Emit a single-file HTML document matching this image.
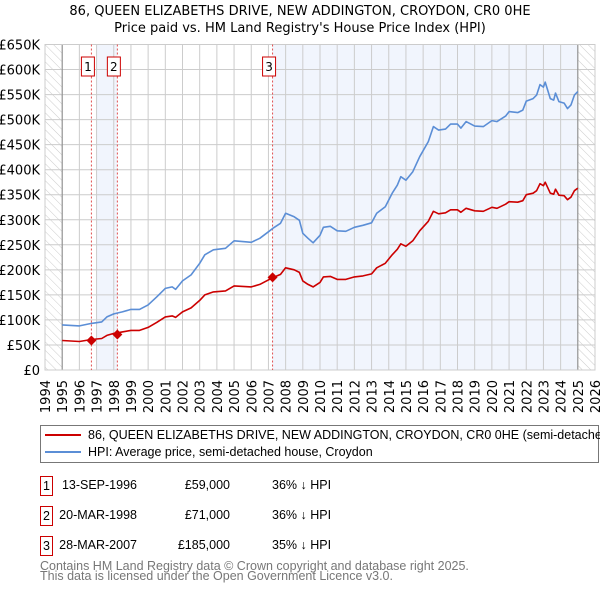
<!DOCTYPE html>
<html><head><meta charset="utf-8"><style>
body{margin:0;background:#fff;font-family:"Liberation Sans","DejaVu Sans",sans-serif;}
#wrap{position:relative;width:600px;height:590px;overflow:hidden;}
svg text{font-family:"DejaVu Sans","Liberation Sans",sans-serif;}
.row{position:absolute;font-size:12px;font-family:"Liberation Sans",sans-serif;color:#000;white-space:nowrap;}
</style></head><body><div id="wrap">
<svg id="chart" width="600" height="590">
<defs><pattern id="hatch" width="6" height="6" patternUnits="userSpaceOnUse" patternTransform="rotate(-45)"><line x1="0" y1="0" x2="0" y2="6" stroke="#ccc" stroke-width="1"/></pattern></defs>
<text x="300" y="15" text-anchor="middle" font-size="13">86, QUEEN ELIZABETHS DRIVE, NEW ADDINGTON, CROYDON, CR0 0HE</text>
<text x="300" y="32" text-anchor="middle" font-size="13">Price paid vs. HM Land Registry's House Price Index (HPI)</text>
<g id="plot"></g>
</svg>
<div style="position:absolute;left:40px;top:425px;width:557px;height:36px;border:1px solid #777;">
 <div style="position:absolute;left:4px;top:8px;width:36px;height:2px;background:#cc0000"></div>
 <div class="row" style="left:47px;top:2px;font-size:12.5px">86, QUEEN ELIZABETHS DRIVE, NEW ADDINGTON, CROYDON, CR0 0HE (semi-detached house)</div>
 <div style="position:absolute;left:4px;top:25px;width:36px;height:2px;background:#5b8ed6"></div>
 <div class="row" style="left:47px;top:19px;font-size:12.5px">HPI: Average price, semi-detached house, Croydon</div>
</div>
<div id="table"></div>
<div class="row" style="left:40px;top:561px;color:#777;line-height:10px;font-size:12.5px">Contains HM Land Registry data © Crown copyright and database right 2025.<br>This data is licensed under the Open Government Licence v3.0.</div>
</div>
<script>
const hpiYears=[1995.0,1996.0,1996.7,1997.3,1997.6,1998.0,1998.5,1999.0,1999.5,2000.0,2000.5,2001.0,2001.4,2001.6,2002.0,2002.5,2003.0,2003.3,2003.8,2004.5,2005.0,2006.0,2006.5,2007.0,2007.3,2007.7,2008.0,2008.5,2008.8,2009.0,2009.3,2009.6,2010.0,2010.2,2010.6,2011.0,2011.5,2012.0,2012.5,2013.0,2013.3,2013.8,2014.2,2014.5,2014.7,2015.0,2015.4,2015.8,2016.3,2016.6,2016.9,2017.3,2017.6,2018.0,2018.2,2018.5,2019.0,2019.5,2020.0,2020.3,2020.8,2021.0,2021.5,2021.8,2022.0,2022.4,2022.6,2022.8,2023.0,2023.1,2023.4,2023.6,2023.7,2023.9,2024.2,2024.4,2024.6,2024.8,2025.0];
const hpiValues=[90,88,93,96,106,112,116,121,121,130,146,163,166,161,178,190,213,230,240,243,258,255,263,276,284,293,313,306,299,273,263,254,269,285,287,278,277,285,289,294,313,326,353,369,386,379,396,426,456,486,479,481,491,491,483,496,487,486,498,496,507,516,514,519,537,542,549,570,565,575,542,539,553,536,533,522,529,549,556];
const propValues=[59,57,61,63,69,73,76,79,79,85,95,106,108,105,116,124,139,150,156,158,168,166,171,180,185,191,204,200,195,178,171,166,175,186,187,181,181,186,188,192,204,213,230,241,252,247,258,278,297,317,312,314,320,320,315,323,318,317,325,323,331,336,335,338,350,353,358,372,368,375,353,351,361,349,348,340,345,358,363];
const saleYears=[1996.70,1998.21,2007.24];
const saleValues=[59,71,185];
const saleLabels=["1","2","3"];
const saleDates=["13-SEP-1996","20-MAR-1998","28-MAR-2007"];
const salePrices=["£59,000","£71,000","£185,000"];
const saleDiffs=["36% ↓ HPI","36% ↓ HPI","35% ↓ HPI"];
const yTicks=[0,50,100,150,200,250,300,350,400,450,500,550,600,650];
const yTickLabels=["£0","£50K","£100K","£150K","£200K","£250K","£300K","£350K","£400K","£450K","£500K","£550K","£600K","£650K"];
const xTicks=[1994,1995,1996,1997,1998,1999,2000,2001,2002,2003,2004,2005,2006,2007,2008,2009,2010,2011,2012,2013,2014,2015,2016,2017,2018,2019,2020,2021,2022,2023,2024,2025,2026];

const X0=45,X1=595,Y0=370,Y1=44.5;
const xs=y=>X0+(y-1994)/(2026-1994)*(X1-X0);
const ys=v=>Y0-v/650*(Y0-Y1);
const NS="http://www.w3.org/2000/svg";
const g=document.getElementById('plot');
function mk(t,a,p){const e=document.createElementNS(NS,t);for(const k in a)e.setAttribute(k,a[k]);(p||g).appendChild(e);return e;}
let e;
e=mk('rect',{x:X0,y:Y1,width:X1-X0,height:Y0-Y1,fill:'#fff'});


e=mk('rect',{x:xs(1994),y:Y1,width:xs(1995)-xs(1994),height:Y0-Y1,fill:'url(#hatch)'});


e=mk('rect',{x:xs(2025),y:Y1,width:xs(2026)-xs(2025),height:Y0-Y1,fill:'url(#hatch)'});


e=mk('rect',{x:xs(1997.0),y:Y1,width:xs(saleYears[1])-xs(1997.0),height:Y0-Y1,fill:'#eef3fc',opacity:0.8});


e=mk('rect',{x:xs(saleYears[2]),y:Y1,width:xs(2025)-xs(saleYears[2]),height:Y0-Y1,fill:'#eef3fc',opacity:0.8});


yTicks.forEach((v,i)=>{
 e=mk('line',{x1:X0,x2:X1,y1:ys(v),y2:ys(v),stroke:'#ccc','stroke-width':1});
 
 
 e=mk('text',{x:40,y:ys(v)+5,'text-anchor':'end','font-size':13});
 e.textContent=yTickLabels[i];
 
 
});
xTicks.forEach(yr=>{
 e=mk('line',{x1:xs(yr),x2:xs(yr),y1:Y1,y2:Y0,stroke:'#ccc','stroke-width':1});
 
 
 e=mk('text',{transform:`translate(${xs(yr)+5},380) rotate(-90)`,'text-anchor':'end','font-size':13});
 e.textContent=yr;
 
 
});
[1995,2025].forEach(yr=>{
 e=mk('line',{x1:xs(yr),x2:xs(yr),y1:Y1,y2:Y0,stroke:'#888','stroke-width':1});
 
 
});
e=mk('rect',{x:X0,y:Y1,width:X1-X0,height:Y0-Y1,fill:'none',stroke:'#ccc'});


saleYears.forEach((yr,i)=>{
 e=mk('line',{x1:xs(yr),x2:xs(yr),y1:Y1,y2:Y0,stroke:'#e05050','stroke-width':1,'stroke-dasharray':'2,2'});
 
 
});
const pts=(vals)=>hpiYears.map((yr,i)=>xs(yr).toFixed(1)+','+ys(vals[i]).toFixed(1)).join(' ');
e=mk('polyline',{points:pts(hpiValues),fill:'none',stroke:'#5b8ed6','stroke-width':1.6,'stroke-linejoin':'round'});


e=mk('polyline',{points:pts(propValues),fill:'none',stroke:'#cc0000','stroke-width':1.6,'stroke-linejoin':'round'});


saleYears.forEach((yr,i)=>{
 const cx=xs(yr),cy=ys(saleValues[i]);
 e=mk('polygon',{points:`${cx},${cy-5} ${cx+5},${cy} ${cx},${cy+5} ${cx-5},${cy}`,fill:'#cc0000'});
 
 
 e=mk('rect',{x:cx-10,y:57,width:13,height:19,fill:'#fff',stroke:'#cc0000'});
 
 
 e=mk('text',{x:cx-3.5,y:71,'text-anchor':'middle','font-size':12});
 e.textContent=saleLabels[i];
 
 
});
const t=document.getElementById('table');
saleLabels.forEach((l,i)=>{
 const top=476+i*30;
 const r=document.createElement('div');
 
 
 r.innerHTML=`<div class="row" style="left:40px;top:${top}px;width:11px;height:18px;border:1px solid #cc0000;text-align:center;line-height:18px;font-size:12.5px">${l}</div>`+
 `<div class="row" style="left:40px;width:97px;text-align:right;top:${top}px;line-height:18px;font-size:12.5px">${saleDates[i]}</div>`+
 `<div class="row" style="left:130px;width:100px;text-align:right;top:${top}px;line-height:18px;font-size:12.5px">${salePrices[i]}</div>`+
 `<div class="row" style="left:272px;top:${top}px;line-height:18px;font-size:12.5px">${saleDiffs[i]}</div>`;
 t.appendChild(r);
});
</script></body></html>
